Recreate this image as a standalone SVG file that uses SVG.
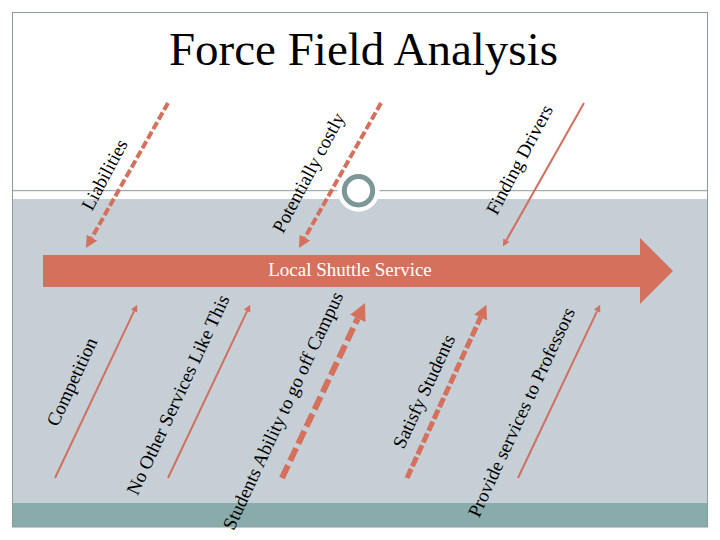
<svg xmlns="http://www.w3.org/2000/svg" width="720" height="540" viewBox="0 0 720 540">
  <style>
    .lbl { font-family: "Liberation Serif", "Times New Roman", serif; font-size: 19px; fill: #000; text-anchor: middle; }
    .title { font-family: "Liberation Serif", "Times New Roman", serif; font-size: 47px; fill: #000; text-anchor: middle; }
    .main { font-family: "Liberation Serif", "Times New Roman", serif; font-size: 19px; fill: #fff; text-anchor: middle; }
    .thin { stroke: #D0705E; stroke-width: 2; fill: none; }
    .dash1 { stroke: #D4705C; stroke-width: 4; stroke-dasharray: 8 3; fill: none; }
    .dash2 { stroke: #D4705C; stroke-width: 6; stroke-dasharray: 14 5; fill: none; }
    .dash3 { stroke: #D4705C; stroke-width: 5; stroke-dasharray: 10 3; fill: none; }
  </style>
  <defs>
    <marker id="hThin" viewBox="0 0 10 10" refX="0" refY="5" markerUnits="userSpaceOnUse" markerWidth="9" markerHeight="7" orient="auto">
      <path d="M0,0 L10,5 L0,10 z" fill="#D0705E"/>
    </marker>
    <marker id="hD1" viewBox="0 0 10 10" refX="0" refY="5" markerUnits="userSpaceOnUse" markerWidth="12" markerHeight="12" orient="auto">
      <path d="M0,0 L10,5 L0,10 z" fill="#D4705C"/>
    </marker>
    <marker id="hD2" viewBox="0 0 10 10" refX="0" refY="5" markerUnits="userSpaceOnUse" markerWidth="17" markerHeight="17" orient="auto">
      <path d="M0,0 L10,5 L0,10 z" fill="#D4705C"/>
    </marker>
    <marker id="hD3" viewBox="0 0 10 10" refX="0" refY="5" markerUnits="userSpaceOnUse" markerWidth="15" markerHeight="14" orient="auto">
      <path d="M0,0 L10,5 L0,10 z" fill="#D4705C"/>
    </marker>
  </defs>

  <!-- background -->
  <rect x="0" y="0" width="720" height="540" fill="#ffffff"/>
  <rect x="12.5" y="199" width="695" height="304" fill="#C6CFD5"/>
  <rect x="12.5" y="503" width="695" height="24" fill="#8AABAB"/>
  <rect x="12.5" y="12.5" width="695" height="514.5" fill="none" stroke="#8B9B9B" stroke-width="1"/>
  <line x1="12.5" y1="190.7" x2="707.5" y2="190.7" stroke="#8B9B9B" stroke-width="1"/>
  <g id="ornament">
    <circle cx="358.5" cy="190.7" r="21" fill="#ffffff"/>
    <circle cx="358.5" cy="190.7" r="14.2" fill="#ffffff" stroke="#7B9797" stroke-width="5"/>
  </g>

  <g id="title">
    <text class="title" x="363.5" y="65">Force Field Analysis</text>
  </g>

  <g id="main-arrow">
    <polygon points="43,255 640,255 640,238 673,271 640,304 640,287 43,287" fill="#D4705C"/>
    <text class="main" x="350" y="276">Local Shuttle Service</text>
  </g>

  <g id="connectors">
    <line class="dash1" x1="168" y1="103" x2="91.9" y2="237.6" marker-end="url(#hD1)"/>
    <line class="dash1" x1="381" y1="103" x2="304.9" y2="237.6" marker-end="url(#hD1)"/>
    <line class="thin" x1="584" y1="103" x2="506.4" y2="240.2" marker-end="url(#hThin)"/>
    <line class="thin" x1="55" y1="478" x2="134.1" y2="311.1" marker-end="url(#hThin)"/>
    <line class="thin" x1="168" y1="478" x2="247.1" y2="311.1" marker-end="url(#hThin)"/>
    <line class="dash2" x1="282" y1="478" x2="357.8" y2="318.4" marker-end="url(#hD2)"/>
    <line class="dash3" x1="407" y1="478" x2="480.6" y2="317.4" marker-end="url(#hD3)"/>
    <line class="thin" x1="518" y1="478" x2="597.1" y2="311.1" marker-end="url(#hThin)"/>
  </g>

  <g id="liabilities"><text class="lbl" dy="0.3em" transform="translate(105,175) rotate(-62)">Liabilities</text></g>
  <g id="potentially-costly"><text class="lbl" dy="0.3em" transform="translate(309,173) rotate(-62)">Potentially costly</text></g>
  <g id="finding-drivers"><text class="lbl" dy="0.3em" transform="translate(520,160) rotate(-62)">Finding Drivers</text></g>
  <g id="competition"><text class="lbl" dy="0.3em" transform="translate(72.5,382) rotate(-65)">Competition</text></g>
  <g id="no-other-services"><text class="lbl" dy="0.3em" transform="translate(178.5,395) rotate(-65)">No Other Services Like This</text></g>
  <g id="students-ability"><text class="lbl" dy="0.3em" transform="translate(283.5,411) rotate(-65)">Students Ability to go off Campus</text></g>
  <g id="satisfy-students"><text class="lbl" dy="0.3em" transform="translate(424.5,391.5) rotate(-65)">Satisfy Students</text></g>
  <g id="provide-services"><text class="lbl" dy="0.3em" transform="translate(522,412.5) rotate(-65)">Provide services to Professors</text></g>
</svg>
